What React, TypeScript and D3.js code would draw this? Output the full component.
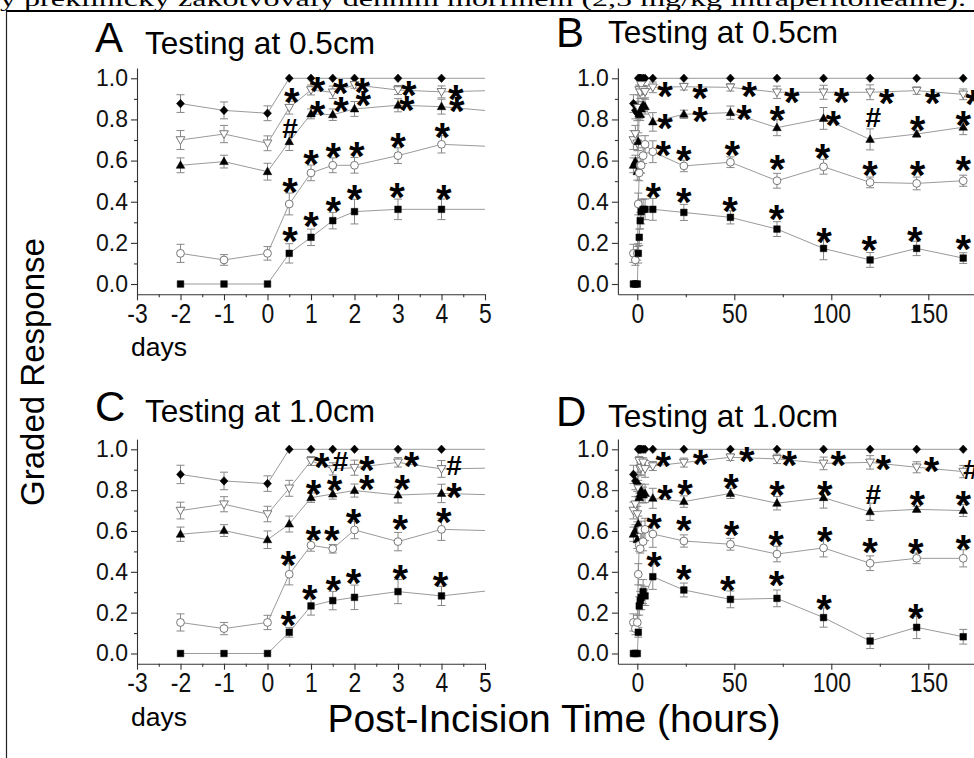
import React, { useEffect, useRef } from "react";
import * as d3 from "d3";

// time points: pre-incision baselines (-2,-1,0) then post-incision hours
const hours = [-2, -1, 0, 0.5, 1, 1.5, 2, 3, 4, 8, 24, 48, 72, 96, 120, 144, 168];

// ---- testing at 0.5cm (panels A, B)
const diamond05 = [0.877, 0.844, 0.83, 1, 1, 1, 1, 1, 1, 1, 1, 1, 1, 1, 1, 1, 1];
const diamondErr05 = [0.043, 0.041, 0.036, 0, 0, 0, 0, 0, 0, 0, 0, 0, 0, 0, 0, 0, 0];
const triDown05 = [0.7, 0.729, 0.684, 0.857, 0.943, 0.932, 0.968, 0.943, 0.934, 0.956, 0.959, 0.956, 0.932, 0.932, 0.932, 0.94, 0.922];
const triDownErr05 = [0.046, 0.042, 0.036, 0.031, 0.024, 0.03, 0.016, 0.022, 0.029, 0.026, 0.016, 0.018, 0.03, 0.034, 0.036, 0.018, 0.026];
const triUp05 = [0.577, 0.595, 0.546, 0.692, 0.827, 0.823, 0.851, 0.869, 0.862, 0.788, 0.825, 0.833, 0.76, 0.805, 0.703, 0.729, 0.762];
const triUpErr05 = [0.036, 0.031, 0.041, 0.043, 0.024, 0.028, 0.036, 0.032, 0.036, 0.045, 0.02, 0.032, 0.039, 0.053, 0.051, 0.015, 0.036];
const circle05 = [0.149, 0.117, 0.149, 0.389, 0.54, 0.577, 0.577, 0.624, 0.679, 0.643, 0.574, 0.592, 0.502, 0.57, 0.494, 0.489, 0.502];
const circleErr05 = [0.044, 0.026, 0.033, 0.053, 0.038, 0.036, 0.038, 0.038, 0.042, 0.053, 0.028, 0.026, 0.036, 0.036, 0.026, 0.031, 0.027];
const square05 = [0, 0, 0, 0.149, 0.227, 0.308, 0.352, 0.363, 0.363, 0.363, 0.348, 0.324, 0.267, 0.173, 0.117, 0.173, 0.126];
const squareErr05 = [0, 0, 0, 0.047, 0.04, 0.04, 0.06, 0.05, 0.05, 0.053, 0.039, 0.032, 0.036, 0.055, 0.036, 0.035, 0.026];

// ---- testing at 1.0cm (panels C, D)
const diamond10 = [0.877, 0.845, 0.832, 1, 1, 1, 1, 1, 1, 1, 1, 1, 1, 1, 1, 1, 1];
const diamondErr10 = [0.045, 0.043, 0.038, 0, 0, 0, 0, 0, 0, 0, 0, 0, 0, 0, 0, 0, 0];
const triDown10 = [0.7, 0.731, 0.683, 0.809, 0.943, 0.904, 0.91, 0.936, 0.904, 0.918, 0.935, 0.961, 0.953, 0.931, 0.936, 0.912, 0.891];
const triDownErr10 = [0.041, 0.037, 0.038, 0.039, 0.022, 0.03, 0.037, 0.023, 0.041, 0.022, 0.022, 0.016, 0.023, 0.031, 0.033, 0.027, 0.03];
const triUp10 = [0.584, 0.602, 0.557, 0.634, 0.763, 0.781, 0.798, 0.776, 0.784, 0.76, 0.744, 0.784, 0.736, 0.763, 0.694, 0.706, 0.7];
const triUpErr10 = [0.035, 0.029, 0.043, 0.039, 0.023, 0.025, 0.032, 0.039, 0.045, 0.049, 0.028, 0.025, 0.033, 0.051, 0.042, 0.014, 0.029];
const circle10 = [0.152, 0.122, 0.152, 0.388, 0.53, 0.513, 0.605, 0.548, 0.608, 0.585, 0.551, 0.535, 0.487, 0.517, 0.442, 0.466, 0.466];
const circleErr10 = [0.042, 0.03, 0.035, 0.052, 0.029, 0.021, 0.043, 0.045, 0.054, 0.065, 0.03, 0.029, 0.038, 0.044, 0.036, 0.026, 0.042];
const square10 = [0, 0, 0, 0.104, 0.233, 0.259, 0.275, 0.303, 0.282, 0.376, 0.311, 0.265, 0.27, 0.176, 0.061, 0.128, 0.082];
const squareErr10 = [0, 0, 0, 0.024, 0.045, 0.045, 0.06, 0.059, 0.047, 0.062, 0.034, 0.041, 0.041, 0.047, 0.037, 0.055, 0.036];

// significance marks [time, value, symbol]
const marksA: [number, number, string][] = [
  [0.56, 0.927, "*"], [1.15, 0.979, "*"], [1.68, 0.972, "*"], [2.18, 0.976, "*"], [3.25, 0.96, "*"], [4.33, 0.943, "*"],
  [0.52, 0.757, "#"], [1.15, 0.862, "*"], [1.69, 0.882, "*"], [2.2, 0.911, "*"], [3.2, 0.891, "*"], [4.35, 0.886, "*"],
  [4.02, 0.757, "*"], [3.0, 0.708, "*"], [2.05, 0.665, "*"], [1.51, 0.66, "*"], [1.0, 0.627, "*"], [0.52, 0.489, "*"],
  [2.98, 0.465, "*"], [4.05, 0.457, "*"], [2.0, 0.454, "*"], [1.51, 0.4, "*"], [1.0, 0.327, "*"], [0.52, 0.254, "*"],
];
const marksB: [number, number, string][] = [
  [14.3, 0.959, "*"], [32.3, 0.946, "*"], [57.7, 0.956, "*"], [79.6, 0.927, "*"], [105.3, 0.927, "*"], [128.5, 0.924, "*"], [152.2, 0.924, "*"], [173, 0.919, "*"],
  [14.3, 0.8, "*"], [32.3, 0.833, "*"], [55, 0.843, "*"], [72.2, 0.838, "*"], [101, 0.817, "*"], [121.6, 0.81, "#"], [144.5, 0.793, "*"], [168, 0.817, "*"],
  [13.4, 0.671, "*"], [24, 0.648, "*"], [49, 0.671, "*"], [72.2, 0.603, "*"], [95.5, 0.655, "*"], [120, 0.571, "*"], [144.5, 0.571, "*"], [168, 0.595, "*"],
  [8.2, 0.465, "*"], [24, 0.441, "*"], [47.8, 0.4, "*"], [71.8, 0.36, "*"], [96.2, 0.246, "*"], [119.6, 0.206, "*"], [143, 0.25, "*"], [168, 0.211, "*"],
];
const marksC: [number, number, string][] = [
  [1.25, 0.956, "*"], [1.68, 0.945, "#"], [2.28, 0.94, "*"], [3.31, 0.96, "*"], [4.29, 0.923, "#"],
  [1.06, 0.825, "*"], [1.54, 0.842, "*"], [2.28, 0.847, "*"], [3.1, 0.85, "*"], [4.29, 0.809, "*"],
  [1.98, 0.683, "*"], [3.05, 0.651, "*"], [4.05, 0.687, "*"], [1.05, 0.597, "*"], [1.48, 0.597, "*"], [0.48, 0.478, "*"],
  [1.98, 0.389, "*"], [3.05, 0.406, "*"], [3.98, 0.376, "*"], [1.51, 0.352, "*"], [0.97, 0.311, "*"], [0.48, 0.181, "*"],
];
const marksD: [number, number, string][] = [
  [13.4, 0.961, "*"], [32.6, 0.972, "*"], [56.4, 0.985, "*"], [78.4, 0.964, "*"], [103.6, 0.964, "*"], [126.8, 0.948, "*"], [151.7, 0.935, "*"], [172, 0.902, "#"],
  [14.3, 0.798, "*"], [24.6, 0.825, "*"], [48.3, 0.853, "*"], [72, 0.817, "*"], [96.7, 0.82, "*"], [121.6, 0.781, "#"], [144.3, 0.768, "*"], [168, 0.771, "*"],
  [8.6, 0.657, "*"], [24, 0.646, "*"], [48.6, 0.622, "*"], [71.5, 0.576, "*"], [96.7, 0.592, "*"], [120, 0.54, "*"], [143.6, 0.536, "*"], [168, 0.553, "*"],
  [8.6, 0.474, "*"], [24, 0.406, "*"], [46.6, 0.352, "*"], [71.8, 0.38, "*"], [96.2, 0.262, "*"], [143.6, 0.216, "*"],
];

const yTicks = [0, 0.2, 0.4, 0.6, 0.8, 1.0];
const yMinor = [0.1, 0.3, 0.5, 0.7, 0.9];
const dayTicks = [-3, -2, -1, 0, 1, 2, 3, 4, 5];
const dayMinor = [-2.5, -1.5, -0.5, 0.5, 1.5, 2.5, 3.5, 4.5];
const hourTicks = [0, 50, 100, 150];
const hourMinor = [25, 75, 125, 175];

const SANS = "'Liberation Sans', Arial, Helvetica, sans-serif";
const W = 974;
const H = 758;

const shapes: Record<string, string> = {
  diamond: "M0,-4.3L4,0L0,4.3L-4,0Z",
  triUp: "M0,-4.6L4.3,3L-4.3,3Z",
  triDown: "M-4.4,-3.3L4.4,-3.3L0,4.4Z",
  square: "M-3.3,-3.3h6.6v6.6h-6.6Z",
};

function makeSeries(d: number[], de: number[], tu: number[], tue: number[], td: number[], tde: number[], c: number[], ce: number[], s: number[], se: number[]) {
  return [
    { shape: "diamond", values: d, errs: de, open: false },
    { shape: "triDown", values: td, errs: tde, open: true },
    { shape: "triUp", values: tu, errs: tue, open: false },
    { shape: "circle", values: c, errs: ce, open: true },
    { shape: "square", values: s, errs: se, open: false },
  ];
}

const series05 = makeSeries(diamond05, diamondErr05, triUp05, triUpErr05, triDown05, triDownErr05, circle05, circleErr05, square05, squareErr05);
const series10 = makeSeries(diamond10, diamondErr10, triUp10, triUpErr10, triDown10, triDownErr10, circle10, circleErr10, square10, squareErr10);

const panels = [
  { id: "A", title: "Testing at 0.5cm", lx: 95, ly: 52, tx: 145, ty: 54, xDomain: [-3, 5], xRange: [137, 485], yRange: [294.3, 68], ticks: dayTicks, minor: dayMinor, series: series05, marks: marksA, days: true },
  { id: "B", title: "Testing at 0.5cm", lx: 556, ly: 47, tx: 608, ty: 43, xDomain: [-10, 175], xRange: [617.9, 976.8], yRange: [294.3, 68], ticks: hourTicks, minor: hourMinor, series: series05, marks: marksB, days: false },
  { id: "C", title: "Testing at 1.0cm", lx: 95, ly: 421, tx: 145, ty: 422, xDomain: [-3, 5], xRange: [137, 485], yRange: [663.7, 439.1], ticks: dayTicks, minor: dayMinor, series: series10, marks: marksC, days: true },
  { id: "D", title: "Testing at 1.0cm", lx: 556, ly: 426, tx: 608, ty: 427, xDomain: [-10, 175], xRange: [617.9, 976.8], yRange: [663.7, 439.1], ticks: hourTicks, minor: hourMinor, series: series10, marks: marksD, days: false },
];

export default function App() {
  const svgRef = useRef<SVGSVGElement>(null);

  useEffect(() => {
    const svg = d3.select(svgRef.current);
    svg.selectAll("*").remove();
    const defs = svg.append("defs");

    // cut-off caption line and frame
    svg.append("text")
      .attr("x", 0).attr("y", 6)
      .attr("font-family", "'Liberation Serif', 'Times New Roman', serif")
      .attr("font-size", 22)
      .attr("textLength", 966).attr("lengthAdjust", "spacingAndGlyphs")
      .text("y preklinicky zakotvovaly denním morfinem (2,5 mg/kg intraperitoneálně).");
    svg.append("line").attr("x1", 6).attr("x2", W).attr("y1", 11).attr("y2", 11).attr("stroke", "#000").attr("stroke-width", 2.2);
    svg.append("line").attr("x1", 6.5).attr("x2", 6.5).attr("y1", 11).attr("y2", H).attr("stroke", "#222").attr("stroke-width", 1.2);

    panels.forEach((p) => {
      const x = d3.scaleLinear().domain(p.xDomain).range(p.xRange);
      const y = d3.scaleLinear().domain([-0.05, 1.05]).range(p.yRange);
      const g = svg.append("g");

      defs.append("clipPath").attr("id", "clip" + p.id)
        .append("rect")
        .attr("x", p.xRange[0]).attr("y", 0)
        .attr("width", Math.min(p.xRange[1], W) - p.xRange[0]).attr("height", H);

      // axes
      const yAxis = g.append("g").attr("transform", `translate(${p.xRange[0]},0)`)
        .call(d3.axisLeft(y).tickValues(yTicks).tickSize(6).tickSizeOuter(0).tickPadding(3).tickFormat(d3.format(".1f")));
      yAxis.selectAll("text").attr("font-size", 23).attr("font-family", SANS).attr("fill", "#111");
      g.append("g").attr("transform", `translate(${p.xRange[0]},0)`)
        .call(d3.axisLeft(y).tickValues(yMinor).tickSize(3).tickFormat(() => ""))
        .select(".domain").remove();

      const x0 = y(-0.05);
      const xAxis = g.append("g").attr("transform", `translate(0,${x0})`)
        .call(d3.axisBottom(x).tickValues(p.ticks).tickSize(6).tickSizeOuter(0).tickFormat((d) => String(d)));
      xAxis.selectAll("text")
        .attr("font-size", 27).attr("font-family", SANS).attr("fill", "#111")
        .attr("y", 9).attr("dy", "0.72em")
        .attr("transform", "scale(0.85,1)");
      g.append("g").attr("transform", `translate(0,${x0})`)
        .call(d3.axisBottom(x).tickValues(p.minor).tickSize(3).tickFormat(() => ""))
        .select(".domain").remove();
      g.selectAll(".domain, .tick line").attr("stroke", "#333").attr("stroke-width", 1.1);

      const plot = g.append("g").attr("clip-path", `url(#clip${p.id})`);
      const line = d3.line<number>().x((_, i) => x(hours[i])).y((v) => y(v));

      p.series.forEach((s) => {
        plot.append("path").datum(s.values).attr("d", line)
          .attr("fill", "none").attr("stroke", "#9a9a9a").attr("stroke-width", 1);
      });

      p.series.forEach((s) => {
        const eb = plot.append("g").attr("stroke", "#888").attr("stroke-width", 1);
        s.values.forEach((v, i) => {
          const e = s.errs[i];
          if (!e) return;
          const cx = x(hours[i]);
          eb.append("line").attr("x1", cx).attr("x2", cx).attr("y1", y(v - e)).attr("y2", y(v + e));
          eb.append("line").attr("x1", cx - 4).attr("x2", cx + 4).attr("y1", y(v - e)).attr("y2", y(v - e));
          eb.append("line").attr("x1", cx - 4).attr("x2", cx + 4).attr("y1", y(v + e)).attr("y2", y(v + e));
        });
      });

      p.series.forEach((s) => {
        s.values.forEach((v, i) => {
          const cx = x(hours[i]);
          const cy = y(v);
          if (s.shape === "circle") {
            plot.append("circle").attr("cx", cx).attr("cy", cy).attr("r", 3.9)
              .attr("fill", "#fff").attr("stroke", "#777").attr("stroke-width", 1);
          } else {
            plot.append("path").attr("d", shapes[s.shape])
              .attr("transform", `translate(${cx},${cy})`)
              .attr("fill", s.open ? "#fff" : "#000")
              .attr("stroke", s.open ? "#777" : "#000")
              .attr("stroke-width", s.open ? 1 : 0.5);
          }
        });
      });

      // significance marks
      p.marks.forEach(([t, v, sym]) => {
        const star = sym === "*";
        const fs = star ? 40 : 28;
        g.append("text")
          .attr("x", x(t)).attr("y", y(v) + (star ? 0.57 * fs : 0.36 * fs))
          .attr("text-anchor", "middle")
          .attr("font-family", SANS).attr("font-weight", "bold")
          .attr("font-size", fs).attr("fill", "#000")
          .text(sym);
      });

      // titles
      g.append("text").attr("x", p.lx).attr("y", p.ly).attr("font-family", SANS).attr("font-size", 42).text(p.id);
      g.append("text").attr("x", p.tx).attr("y", p.ty).attr("font-family", SANS).attr("font-size", 32)
        .attr("textLength", 230).attr("lengthAdjust", "spacingAndGlyphs").text(p.title);

      if (p.days) {
        g.append("text").attr("x", 131).attr("y", x0 + 62).attr("font-family", SANS).attr("font-size", 26)
          .attr("textLength", 56).attr("lengthAdjust", "spacingAndGlyphs").text("days");
      }
    });

    svg.append("text")
      .attr("transform", "translate(44,372) rotate(-90)")
      .attr("text-anchor", "middle")
      .attr("font-family", SANS).attr("font-size", 33)
      .text("Graded Response");

    svg.append("text")
      .attr("x", 554).attr("y", 732)
      .attr("text-anchor", "middle")
      .attr("font-family", SANS).attr("font-size", 39)
      .text("Post-Incision Time (hours)");
  }, []);

  return (
    <svg
      ref={svgRef}
      width={W}
      height={H}
      style={{ position: "absolute", left: 0, top: 0, background: "#fff" }}
    />
  );
}
